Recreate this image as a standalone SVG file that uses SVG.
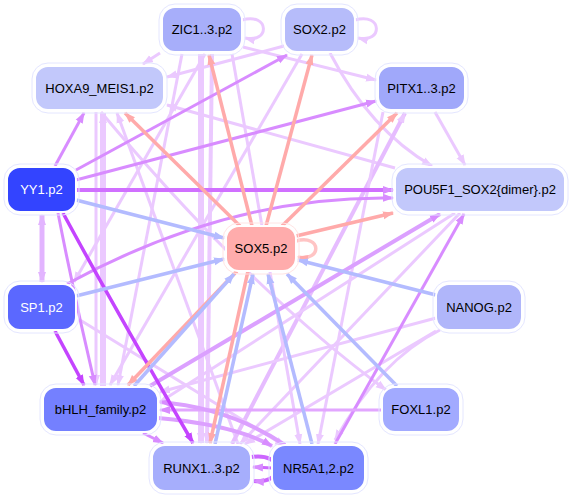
<svg xmlns="http://www.w3.org/2000/svg" width="572" height="498" viewBox="0 0 572 498">
<defs>
<style>
.e{fill:none;stroke-linecap:butt}
.l{stroke:#ebc9ff;stroke-width:3}
.l2{stroke:#e6bcff;stroke-width:4}
.p{stroke:#d88cff;stroke-width:3}
.p2{stroke:#d070ff;stroke-width:4}
.s{stroke:#c444ff;stroke-width:3.5}
.r{stroke:#ffaaaa;stroke-width:3.5}
.b{stroke:#b3bbff;stroke-width:3.5}
.al{marker-end:url(#mL)}
.ap{marker-end:url(#mP)}
.as{marker-end:url(#mS)}
.ar{marker-end:url(#mR)}
.ab{marker-end:url(#mB)}
.box{stroke:#ffffff;stroke-width:2}
.halo{fill:none;stroke:#e4e6ff;stroke-width:1}
text{font-family:"Liberation Sans",Arial,sans-serif;font-size:13px;text-anchor:middle;dominant-baseline:central;fill:#000}
.w{fill:#ffffff}
</style>
<marker id="mL" markerUnits="userSpaceOnUse" markerWidth="11" markerHeight="10" viewBox="0 0 11 10" refX="10" refY="5" orient="auto"><path d="M0,1 L11,5 L0,9 z" fill="#ebc9ff"/></marker>
<marker id="mP" markerUnits="userSpaceOnUse" markerWidth="11" markerHeight="10" viewBox="0 0 11 10" refX="10" refY="5" orient="auto"><path d="M0,1 L11,5 L0,9 z" fill="#d88cff"/></marker>
<marker id="mS" markerUnits="userSpaceOnUse" markerWidth="11" markerHeight="10" viewBox="0 0 11 10" refX="10" refY="5" orient="auto"><path d="M0,1 L11,5 L0,9 z" fill="#c444ff"/></marker>
<marker id="mR" markerUnits="userSpaceOnUse" markerWidth="11" markerHeight="10" viewBox="0 0 11 10" refX="10" refY="5" orient="auto"><path d="M0,1 L11,5 L0,9 z" fill="#ffaaaa"/></marker>
<marker id="mB" markerUnits="userSpaceOnUse" markerWidth="11" markerHeight="10" viewBox="0 0 11 10" refX="10" refY="5" orient="auto"><path d="M0,1 L11,5 L0,9 z" fill="#b3bbff"/></marker>
<marker id="mLs" markerUnits="userSpaceOnUse" markerWidth="11" markerHeight="10" viewBox="0 0 11 10" refX="10" refY="5" orient="auto-start-reverse"><path d="M0,1 L11,5 L0,9 z" fill="#e2b4ff"/></marker>
</defs>
<g id="connectors">
<path class="e l al" d="M242,20 C270,12 270,44 245,38"/>
<path class="e l al" d="M355,20 C383,12 383,44 358,38"/>
<path class="e l al" d="M160,53 L143,64"/>
<path class="e l al" d="M284,46 L167,77"/>
<path class="e l al" d="M243,47 L376,80"/>
<path class="e l al" d="M395,168 L167,105"/>
<path class="e l al" d="M330,53 Q370,130 432,166"/>
<path class="e l al" d="M435,112 L465,165"/>
<path class="e l2" style="stroke:#e2b4ff;stroke-width:5;marker-start:url(#mLs);marker-end:url(#mLs)" d="M42,215 L42,282"/>
<path class="e l al" style="stroke-width:6" d="M103,386 L103,113"/>
<path class="e l al" d="M96,112 L96,385"/>
<path class="e l al" style="stroke-width:6" d="M201,54 L201,443"/>
<path class="e l al" style="stroke-width:4" d="M212,54 L207,443"/>
<path class="e l al" d="M182,54 L118,385"/>
<path class="e l al" d="M205,54 L74,282"/>
<path class="e l al" d="M302,54 L110,385"/>
<path class="e l al" d="M238,444 L117,113"/>
<path class="e l2 al" d="M232,444 L405,113"/>
<path class="e l al" d="M436,318 L160,392"/>
<path class="e l al" d="M440,330 Q380,360 335,440"/>
<path class="e l al" d="M436,331 L245,444"/>
<path class="e l al" d="M455,213 L160,402"/>
<path class="e l al" d="M460,213 L240,444"/>
<path class="e l al" d="M383,112 L318,444"/>
<path class="e l al" d="M232,54 L300,444"/>
<path class="e l al" d="M101,112 Q250,290 386,390"/>
<path class="e l al" d="M80,320 L285,446"/>
<path class="e p ap" d="M55,166 L84,113"/>
<path class="e p ap" d="M76,170 L287,55"/>
<path class="e p ap" d="M76,180 L376,101"/>
<path class="e p2 ap" style="stroke:#d070ff" d="M76,190 L393,190"/>
<path class="e p ap" d="M67,284 Q230,195 393,198"/>
<path class="e p ap" d="M335,444 L464,214"/>
<path class="e p ap" style="stroke:#dba0ff;stroke-width:4" d="M150,386 L440,214"/>
<path class="e p ap" style="stroke:#e2a6ff" d="M382,410 L160,410"/>
<path class="e p ap" style="stroke:#dca0ff;stroke-width:4" d="M285,445 Q230,408 160,402"/>
<path class="e p ap" style="stroke:#dca0ff;stroke-width:4" d="M158,418 Q235,425 272,446"/>
<path class="e p ap" d="M143,433 L163,443"/>
<path class="e p ap" d="M58,213 Q75,300 95,385"/>
<path class="e p ap" style="stroke:#cc66ff;stroke-width:4" d="M251,457 C285,452 285,484 254,481"/>
<path class="e p ap" style="stroke:#cc66ff" d="M272,468 L253,467"/>
<path class="e s as" d="M55,331 L84,385"/>
<path class="e s as" d="M63,213 Q110,300 193,443"/>
<path class="e r ar" d="M240,226 L125,113"/>
<path class="e r ar" d="M252,226 L209,55"/>
<path class="e r ar" d="M266,226 L312,55"/>
<path class="e r ar" d="M282,226 L397,113"/>
<path class="e r ar" d="M296,236 L393,213"/>
<path class="e r ar" d="M237,271 L128,385"/>
<path class="e r ar" d="M248,271 L210,443"/>
<path class="e r ar" style="stroke:#ffc4c4" d="M296,241 C322,234 322,262 298,257"/>
<path class="e b ab" d="M76,200 L224,238"/>
<path class="e b ab" d="M76,296 L224,259"/>
<path class="e b ab" d="M134,386 L234,274"/>
<path class="e b ab" d="M215,444 L253,274"/>
<path class="e b ab" d="M312,444 L268,274"/>
<path class="e b ab" d="M397,386 L287,274"/>
<path class="e b ab" d="M436,295 L298,260"/>
</g>
<g id="ZIC"><rect class="halo" x="159" y="4" width="86" height="51" rx="16"/><rect class="box" x="162" y="7" width="80" height="45" rx="13" fill="#a7aefa"/><text x="202" y="29.5">ZIC1..3.p2</text></g>
<g id="SOX2"><rect class="halo" x="281" y="4" width="77" height="51" rx="16"/><rect class="box" x="284" y="7" width="71" height="45" rx="13" fill="#b6bcfa"/><text x="319.5" y="29.5">SOX2.p2</text></g>
<g id="HOXA9_MEIS1"><rect class="halo" x="32" y="63" width="135" height="50" rx="16"/><rect class="box" x="35" y="66" width="129" height="44" rx="13" fill="#c2c8fb"/><text x="99.5" y="88">HOXA9_MEIS1.p2</text></g>
<g id="PITX"><rect class="halo" x="375" y="63" width="93" height="50" rx="16"/><rect class="box" x="378" y="66" width="87" height="44" rx="13" fill="#a0a8fa"/><text x="421.5" y="88">PITX1..3.p2</text></g>
<g id="YY1"><rect class="halo" x="4" y="164" width="75" height="51" rx="16"/><rect class="box" x="7" y="167" width="69" height="45" rx="13" fill="#3344ff"/><text class="w" x="41.5" y="189.5">YY1.p2</text></g>
<g id="POU5F1_SOX2"><rect class="halo" x="392" y="164" width="176" height="51" rx="16"/><rect class="box" x="395" y="167" width="170" height="45" rx="13" fill="#c2c8fb"/><text x="480" y="189.5">POU5F1_SOX2{dimer}.p2</text></g>
<g id="SOX5"><rect class="halo" x="223" y="223" width="76" height="51" rx="16" style="stroke:#ffe4e4"/><rect class="box" x="226" y="226" width="70" height="45" rx="13" fill="#ffacac"/><text x="261" y="248.5">SOX5.p2</text></g>
<g id="SP1"><rect class="halo" x="4" y="281" width="75" height="52" rx="16"/><rect class="box" x="7" y="284" width="69" height="46" rx="13" fill="#5b68ff"/><text class="w" x="41.5" y="307">SP1.p2</text></g>
<g id="NANOG"><rect class="halo" x="433" y="281" width="92" height="52" rx="16"/><rect class="box" x="436" y="284" width="86" height="46" rx="13" fill="#b0b6fa"/><text x="479" y="307">NANOG.p2</text></g>
<g id="bHLH"><rect class="halo" x="40" y="384" width="121" height="51" rx="16"/><rect class="box" x="43" y="387" width="115" height="45" rx="13" fill="#7480ff"/><text x="100.5" y="409.5">bHLH_family.p2</text></g>
<g id="FOXL1"><rect class="halo" x="379" y="384" width="84" height="51" rx="16"/><rect class="box" x="382" y="387" width="78" height="45" rx="13" fill="#a2aaff"/><text x="421" y="409.5">FOXL1.p2</text></g>
<g id="RUNX"><rect class="halo" x="149" y="442" width="105" height="52" rx="16"/><rect class="box" x="152" y="445" width="99" height="46" rx="13" fill="#a6aefc"/><text x="201.5" y="468">RUNX1..3.p2</text></g>
<g id="NR5A"><rect class="halo" x="269" y="442" width="99" height="52" rx="16"/><rect class="box" x="272" y="445" width="93" height="46" rx="13" fill="#7a88ff"/><text x="318.5" y="468">NR5A1,2.p2</text></g>
</svg>
